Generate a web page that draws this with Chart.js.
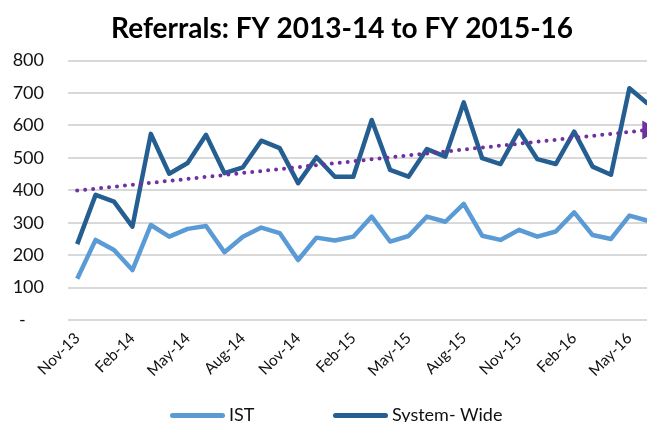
<!DOCTYPE html>
<html>
<head>
<meta charset="utf-8">
<script src="https://cdn.jsdelivr.net/npm/chart.js@4"></script>
<style>
  html, body { margin: 0; padding: 0; width: 647px; height: 422px; overflow: hidden; background: #fff; }
  #wrap { position: relative; width: 670px; height: 422px; }
  .leg { position: absolute; top: 403px; font: 18px Lato, sans-serif; color: #111; white-space: nowrap; }
  .leg i { display: inline-block; width: 55px; height: 5px; border-radius: 3px; vertical-align: middle; margin-right: 4px; position: relative; top: -1px; }
</style>
</head>
<body>
<div id="wrap">
  <canvas id="ctx"></canvas>
  <div class="leg" style="left:170px"><i style="background:#5B9BD5"></i>IST</div>
  <div class="leg" style="left:333px"><i style="background:#255E91"></i>System- Wide</div>
</div>
<script>
// months Nov-13 .. Jun-16
var months = ['Nov-13','Dec-13','Jan-14','Feb-14','Mar-14','Apr-14','May-14','Jun-14','Jul-14','Aug-14','Sep-14','Oct-14',
  'Nov-14','Dec-14','Jan-15','Feb-15','Mar-15','Apr-15','May-15','Jun-15','Jul-15','Aug-15','Sep-15','Oct-15',
  'Nov-15','Dec-15','Jan-16','Feb-16','Mar-16','Apr-16','May-16','Jun-16'];

var istData = [127,247,216,154,293,257,281,290,209,257,285,268,
  185,254,245,257,319,242,259,319,303,358,260,247,
  278,257,273,332,262,250,322,306];

var systemData = [234,386,365,288,574,451,484,571,453,471,553,530,
  422,502,442,442,617,463,442,527,504,671,499,481,
  584,496,481,581,473,448,715,667];

// linear trend of System-Wide, only the two ends
var trendStart = 399;
var trendEnd = 586;

var yTicks = [0,100,200,300,400,500,600,700,800];

var trendData = months.map(function(m, i){
  if (i == 0) return trendStart;
  if (i == months.length - 1) return trendEnd;
  return null;
});
var arrowRadius = months.map(function(m, i){ return i == months.length - 1 ? 7 : 0; });

var refChart = new Chart(document.getElementById('ctx'), {
  type: 'line',
  data: {
    labels: months,
    datasets: [{
        label: 'Trend',
        data: trendData,
        borderColor: '#7030A0',
        backgroundColor: '#7030A0',
        borderWidth: 4,
        borderDash: [0, 8],
        borderCapStyle: 'round',
        spanGaps: true,
        pointRadius: arrowRadius,
        pointStyle: 'triangle',
        rotation: 90,
        order: 0,
        fill: false
      }, {
        label: 'IST',
        data: istData,
        borderColor: '#5B9BD5',
        borderWidth: 4.5,
        borderJoinStyle: 'round',
        pointRadius: 0,
        order: 1,
        fill: false
      }, {
        label: 'System- Wide',
        data: systemData,
        borderColor: '#255E91',
        borderWidth: 4.5,
        borderJoinStyle: 'round',
        pointRadius: 0,
        order: 1,
        fill: false
      }
    ]
  },
  options: {
    responsive: true,
    maintainAspectRatio: false,
    animation: false,
    layout: { padding: { top: 0, right: 13, bottom: 32, left: 0 } },
    plugins: {
      legend: { display: false },
      tooltip: { enabled: false },
      title: {
        display: true,
        // leading spaces nudge the centred title to the right like the original
        text: '    Referrals: FY 2013-14 to FY 2015-16',
        color: '#000',
        font: { family: 'Lato', size: 28, weight: 'bold' },
        padding: { top: 12, bottom: 15 }
      }
    },
    scales: {
      x: {
        offset: true,
        grid: { display: false },
        border: { display: false },
        afterFit: function(scale){ scale.height = 70; },
        ticks: {
          autoSkip: false,
          maxRotation: 45,
          minRotation: 45,
          padding: 1,
          color: '#111',
          font: { family: 'Lato', size: 15.5 },
          callback: function(v, i){ return i % 3 == 0 ? months[i] : ''; }
        }
      },
      y: {
        min: 0,
        max: 800,
        afterFit: function(scale){ scale.width = 68; },
        afterBuildTicks: function(scale){ scale.ticks = yTicks.map(function(v){ return { value: v }; }); },
        grid: { color: '#D9D9D9', lineWidth: 2, drawTicks: false },
        border: { display: false },
        ticks: {
          padding: 24,
          color: '#111',
          font: { family: 'Lato', size: 18 },
          callback: function(v){ return v == 0 ? '-    ' : v; }
        }
      }
    }
  }
});
</script>
</body>
</html>
